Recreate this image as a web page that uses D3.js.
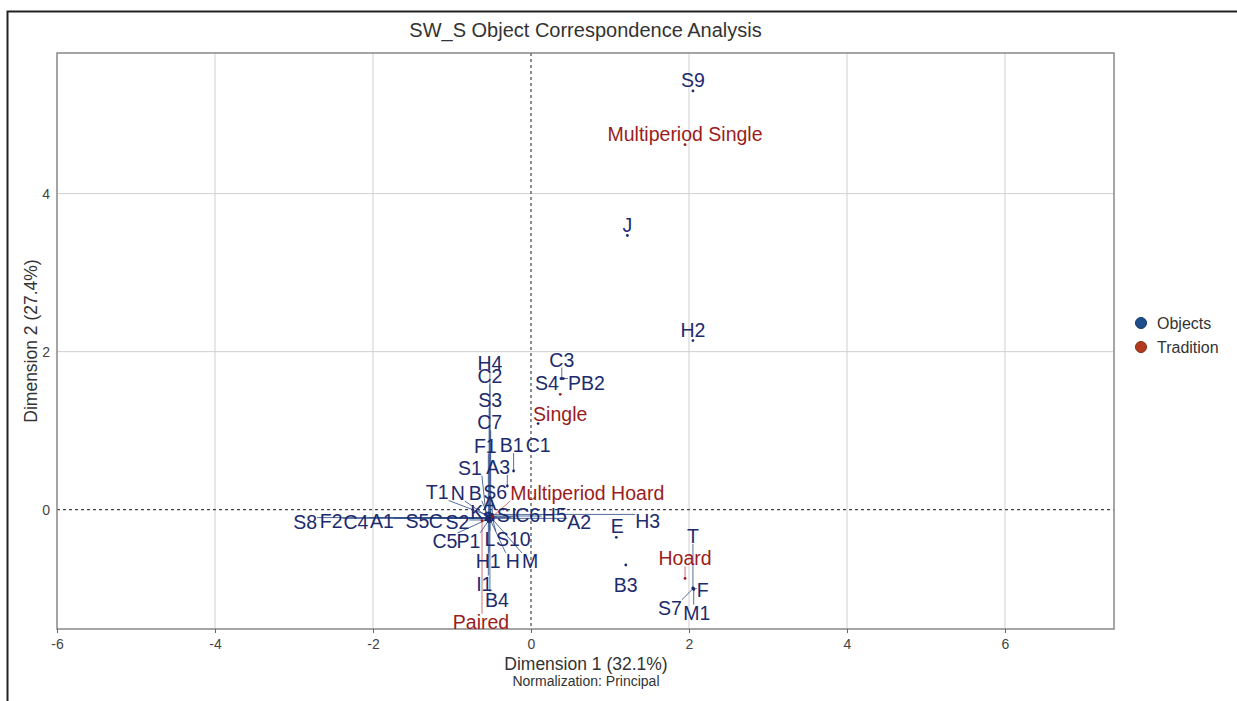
<html>
<head>
<meta charset="utf-8">
<style>
body { margin: 0; background: #fff; }
text { font-family: Arial, "Liberation Sans", sans-serif; }
</style>
</head>
<body>
<svg width="1237" height="701" id="chart"></svg>

<script src="https://cdnjs.cloudflare.com/ajax/libs/d3/7.8.5/d3.min.js"></script>
<script>
// object rows
var objNames = ["S9","J","H2","C3","S4","PB2","C1","B1","A3","E","B3","T","F","S7","M1",
  "H4","C2","S3","C7","F1","S1","T1","N","B","S6","A","K",
  "S8","F2","C4","A1","S5","C","S2","S","I","C6","H5","A2","H3",
  "C5","P1","L","S10","H1","H","M","I1","B4"];
var objX = [2.05,1.22,2.05,0.39,0.38,0.41,0.09,-0.22,-0.30,1.08,1.20,2.05,2.06,2.05,2.06,
  -0.52,-0.52,-0.53,-0.51,-0.54,-0.57,-0.58,-0.56,-0.54,-0.49,-0.51,-0.56,
  -0.53,-0.53,-0.52,-0.52,-0.54,-0.56,-0.54,-0.49,-0.48,-0.51,-0.49,-0.48,-0.51,
  -0.57,-0.54,-0.52,-0.49,-0.53,-0.51,-0.48,-0.54,-0.52];
var objY = [5.30,3.47,2.14,1.66,1.66,1.66,1.09,0.49,0.30,-0.35,-0.70,-0.99,-1.00,-1.00,-1.01,
  -0.05,-0.06,-0.08,-0.06,-0.04,-0.05,-0.06,-0.08,-0.09,-0.06,-0.08,-0.10,
  -0.10,-0.11,-0.10,-0.11,-0.10,-0.11,-0.13,-0.09,-0.10,-0.09,-0.08,-0.11,-0.06,
  -0.13,-0.14,-0.13,-0.11,-0.14,-0.14,-0.13,-0.15,-0.15];

// tradition rows
var tradNames = ["Multiperiod Single","Single","Multiperiod Hoard","Hoard","Paired"];
var tradX = [1.95,0.37,-0.49,1.95,-0.62];
var tradY = [4.62,1.46,-0.09,-0.87,-0.14];

var xTicks = [-6,-4,-2,0,2,4,6];
var yTicks = [0,2,4];
var legendNames = ["Objects","Tradition"];

// label placement (pixel offset from the point)
var labelOff = {
  "S9":[0,-11],"J":[0,-11],"H2":[0,-11],"C3":[0,-19],"S4":[-14,4],"PB2":[23,4],
  "C1":[0,21],"B1":[-2,-26],"A3":[-9,-19],"E":[1,-11],"B3":[0,20],
  "T":[0,-52],"F":[9,1],"S7":[-23,19],"M1":[3,23],
  "H4":[0,-151],"C2":[0,-138],"S3":[1,-116],"C7":[-1,-92],"F1":[-3,-67],"S1":[-16,-46],
  "T1":[-48,-22],"N":[-29,-23],"B":[-13,-24],"S6":[3,-22],"A":[-1,-13],"K":[-10,-6],
  "S8":[-184,4],"F2":[-158,3],"C4":[-134,4],"A1":[-108,3],"S5":[-71,3],"C":[-51,3],"S2":[-31,2],
  "S":[11,-2],"I":[21,-3],"C6":[37,-2],"H5":[62,-1],"A2":[86,4],"H3":[157,7],
  "C5":[-41,21],"P1":[-20,20],"L":[0,19],"S10":[21,21],"H1":[-1,40],"H":[22,40],"M":[37,41],
  "I1":[-4,62],"B4":[7,78],
  "Multiperiod Single":[0,-11],"Single":[0,20],"Multiperiod Hoard":[95,-24],"Hoard":[0,-20],"Paired":[-1,101]
};
var noLeader = ["C1","B3","Single"];

var objColor = "#1c2a6e", tradColor = "#9b1c1c";

var svg = d3.select("#chart");
var mLeft = 57, mRight = 1114, mTop = 53, mBottom = 629;

var x = d3.scaleLinear().domain([-6, 7.38]).range([mLeft, mRight]);
var y = d3.scaleLinear().domain([-1.51, 5.78]).range([mBottom, mTop]);

// outer frame
svg.append("rect").attr("x", 7.5).attr("y", 11.5).attr("width", 1250).attr("height", 720)
  .attr("fill", "none").attr("stroke", "#222").attr("stroke-width", 2);

svg.append("text").attr("x", (mLeft + mRight) / 2).attr("y", 37).attr("text-anchor", "middle")
  .attr("font-size", 20).attr("fill", "#333").text("SW_S Object Correspondence Analysis");

// grid
svg.selectAll(".gx").data(xTicks.filter(function(d){ return d != 0 && d > -6; })).enter().append("line")
  .attr("x1", function(d){ return x(d); }).attr("x2", function(d){ return x(d); })
  .attr("y1", mTop).attr("y2", mBottom).attr("stroke", "#d0d0d0").attr("stroke-width", 1);
svg.selectAll(".gy").data(yTicks.filter(function(d){ return d != 0; })).enter().append("line")
  .attr("x1", mLeft).attr("x2", mRight)
  .attr("y1", function(d){ return y(d); }).attr("y2", function(d){ return y(d); })
  .attr("stroke", "#d0d0d0").attr("stroke-width", 1);

// zero lines
svg.append("line").attr("x1", x(0)).attr("x2", x(0)).attr("y1", mTop).attr("y2", mBottom)
  .attr("stroke", "#444").attr("stroke-dasharray", "3,3").attr("stroke-width", 1.2);
svg.append("line").attr("x1", mLeft).attr("x2", mRight).attr("y1", y(0)).attr("y2", y(0))
  .attr("stroke", "#444").attr("stroke-dasharray", "3,3").attr("stroke-width", 1.2);

// plot frame
svg.append("rect").attr("x", mLeft).attr("y", mTop).attr("width", mRight - mLeft).attr("height", mBottom - mTop)
  .attr("fill", "none").attr("stroke", "#888").attr("stroke-width", 1.5);

// axes
var fmt = function(d){ return String(d); };
var xAxis = svg.append("g").attr("transform", "translate(0," + mBottom + ")")
  .call(d3.axisBottom(x).tickValues(xTicks).tickFormat(fmt).tickSize(4).tickPadding(6));
var yAxis = svg.append("g").attr("transform", "translate(" + mLeft + ",0)")
  .call(d3.axisLeft(y).tickValues(yTicks).tickFormat(fmt).tickSize(0).tickPadding(7));
[xAxis, yAxis].forEach(function(a){
  a.select(".domain").remove();
  a.selectAll("line").attr("stroke", "#666");
  a.selectAll("text").attr("font-size", 14).attr("fill", "#444")
    .style("font-family", "Arial, 'Liberation Sans', sans-serif");
});

svg.append("text").attr("x", x(0) + 55).attr("y", 670).attr("text-anchor", "middle")
  .attr("font-size", 17.5).attr("fill", "#333").text("Dimension 1 (32.1%)");
svg.append("text").attr("x", x(0) + 55).attr("y", 686).attr("text-anchor", "middle")
  .attr("font-size", 14).attr("fill", "#333").text("Normalization: Principal");
svg.append("text").attr("transform", "translate(37," + ((mTop + mBottom) / 2) + ") rotate(-90)")
  .attr("text-anchor", "middle").attr("font-size", 17.5).attr("fill", "#333").text("Dimension 2 (27.4%)");

// points + labels
var pts = objNames.map(function(n, i){ return {name: n, x: objX[i], y: objY[i], kind: "obj"}; })
  .concat(tradNames.map(function(n, i){ return {name: n, x: tradX[i], y: tradY[i], kind: "trad"}; }));

var lineG = svg.append("g"), dotG = svg.append("g"), labG = svg.append("g");

pts.forEach(function(p){
  var px = x(p.x), py = y(p.y), off = labelOff[p.name] || [0, -11];
  var col = p.kind == "obj" ? objColor : tradColor;
  var t = labG.append("text").attr("x", px + off[0]).attr("y", py + off[1]).attr("dy", "0.36em")
    .attr("text-anchor", "middle").attr("font-size", 19.5).attr("fill", col).text(p.name);
  var b = t.node().getBBox();
  // nearest point of the label box, for the leader line
  var bx0 = b.x, bx1 = b.x + b.width, by0 = b.y + 3, by1 = b.y + b.height - 3;
  var cx = Math.max(bx0, Math.min(px, bx1)), cy = Math.max(by0, Math.min(py, by1));
  if (Math.hypot(cx - px, cy - py) > 3 && noLeader.indexOf(p.name) < 0) {
    lineG.append("line").attr("x1", px).attr("y1", py).attr("x2", cx).attr("y2", cy)
      .attr("stroke", p.kind == "obj" ? "#2a4a86" : "#c0504d")
      .attr("stroke-opacity", 0.8).attr("stroke-width", 1);
  }
  dotG.append("circle").attr("cx", px).attr("cy", py).attr("r", 1.4).attr("fill", col);
});

// legend
var lg = svg.append("g").selectAll("g").data(legendNames).enter().append("g")
  .attr("transform", function(d, i){ return "translate(1141," + (323 + i * 24) + ")"; });
lg.append("circle").attr("r", 5.5)
  .attr("fill", function(d, i){ return i == 0 ? "#1d4e89" : "#b23b1f"; })
  .attr("stroke", function(d, i){ return i == 0 ? "#123868" : "#862a14"; }).attr("stroke-width", 1);
lg.append("text").attr("x", 16).attr("dy", "0.36em").attr("font-size", 16).attr("fill", "#333")
  .text(function(d){ return d; });
</script>
</body>
</html>
